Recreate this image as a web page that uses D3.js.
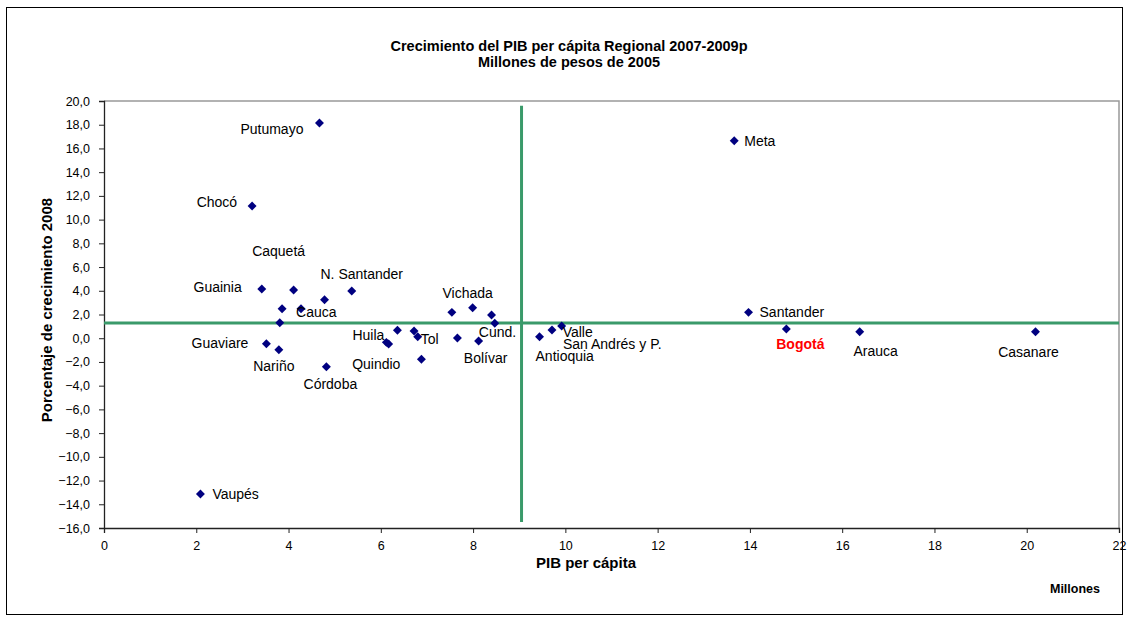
<!DOCTYPE html>
<html>
<head>
<meta charset="utf-8">
<script src="https://cdn.jsdelivr.net/npm/d3@7"></script>
<style>
  body { margin: 0; background: #fff; }
  svg text { font-family: "Liberation Sans", Arial, sans-serif; }
</style>
</head>
<body>
<div id="chart"></div>
<script>
var width = 1129, height = 621;

// departamentos
var names = ["Putumayo", "Chocó", "Meta", "Vaupés", "Guainia", "Caquetá", "Amazonas", "N. Santander",
    "Cauca", "Sucre", "Cesar", "Guaviare", "Nariño", "Córdoba", "Magdalena", "Vichada", "Boyacá",
    "Cund.", "Caldas", "Risaralda", "Tol", "Huila", "Atlántico", "Quindio", "La Guajira", "Bolívar",
    "Antioquia", "San Andrés y P.", "Valle", "Santander", "Bogotá", "Arauca", "Casanare"];
var pib = [4.67, 3.21, 13.66, 2.09, 3.42, 4.11, 4.78, 5.37,
    3.86, 4.27, 3.81, 3.52, 3.79, 4.82, 7.54, 7.99, 8.40,
    8.47, 6.36, 6.72, 6.80, 6.12, 6.17, 6.88, 7.66, 8.12,
    9.44, 9.71, 9.92, 13.97, 14.79, 16.38, 20.19];
var crecimiento = [18.14, 11.15, 16.65, -13.14, 4.15, 4.06, 3.25, 3.98,
    2.49, 2.49, 1.31, -0.46, -0.97, -2.40, 2.18, 2.57, 1.96,
    1.26, 0.67, 0.61, 0.13, -0.35, -0.49, -1.78, 0.02, -0.24,
    0.13, 0.69, 1.03, 2.18, 0.78, 0.55, 0.55];

// promedios (lineas verdes)
var promedioPib = [9.05];
var promedioCrec = [1.28];
var vLineRange = [19.6, -15.5];

var xTicks = [0, 2, 4, 6, 8, 10, 12, 14, 16, 18, 20, 22];
var yTicks = [20, 18, 16, 14, 12, 10, 8, 6, 4, 2, 0, -2, -4, -6, -8, -10, -12, -14, -16];

// posicion de etiquetas (como se arreglaron a mano)
var labelPos = {
    "Putumayo": ["end", -16, 6],
    "Chocó": ["end", -15, -4],
    "Meta": ["start", 10, 0],
    "Vaupés": ["start", 12, 0],
    "Guainia": ["end", -20, -2],
    "Caquetá": ["middle", -15, -39],
    "N. Santander": ["middle", 10, -17],
    "Cauca": ["start", 14, 3],
    "Guaviare": ["end", -18, -1],
    "Nariño": ["middle", -5, 16],
    "Córdoba": ["middle", 4, 17],
    "Vichada": ["middle", -5, -15],
    "Cund.": ["start", -16, 9],
    "Huila": ["end", -2, -7],
    "Tol": ["start", 3, 2],
    "Quindio": ["end", -21, 5],
    "Bolívar": ["middle", 7, 17],
    "Antioquia": ["start", -4, 19],
    "San Andrés y P.": ["start", 11, 14],
    "Valle": ["start", 1, 6],
    "Santander": ["start", 11, 0],
    "Bogotá": ["middle", 14, 15],
    "Arauca": ["middle", 16, 19],
    "Casanare": ["middle", -7, 20]
};

var data = names.map(function(n, i) { return {name: n, x: pib[i], y: crecimiento[i]}; });

var plotLeft = 104, plotRight = 1119, plotTop = 101, plotBottom = 528;

var x = d3.scaleLinear().domain([0, 22]).range([plotLeft, plotRight]);
var y = d3.scaleLinear().domain([-16, 20]).range([plotBottom, plotTop]);

var svg = d3.select("#chart").append("svg")
    .attr("width", width)
    .attr("height", height);

// marco exterior
svg.append("rect")
    .attr("x", 6.5).attr("y", 7.5)
    .attr("width", 1116).attr("height", 607)
    .attr("fill", "none").attr("stroke", "#000").attr("stroke-width", 1);

// borde del area de trazado
svg.append("path")
    .attr("d", "M" + plotLeft + "," + plotTop + "H" + plotRight + "V" + plotBottom)
    .attr("fill", "none").attr("stroke", "#999").attr("stroke-width", 1.5);

// titulos
svg.append("text").attr("x", 569).attr("y", 51).attr("text-anchor", "middle")
    .style("font-size", "14.5px").style("font-weight", "bold")
    .text("Crecimiento del PIB per cápita Regional 2007-2009p");
svg.append("text").attr("x", 569).attr("y", 66.5).attr("text-anchor", "middle")
    .style("font-size", "14.5px").style("font-weight", "bold")
    .text("Millones de pesos de 2005");

var xAxis = d3.axisBottom(x).tickValues(xTicks).tickSize(5).tickFormat(d3.format("d"));
var yAxis = d3.axisLeft(y).tickValues(yTicks).tickSize(5)
    .tickFormat(function(d) { return d3.format(".1f")(d).replace(".", ","); });

var gx = svg.append("g").attr("class", "x axis")
    .attr("transform", "translate(0," + plotBottom + ")")
    .call(xAxis);
var gy = svg.append("g").attr("class", "y axis")
    .attr("transform", "translate(" + plotLeft + ",0)")
    .call(yAxis);

svg.selectAll(".axis .domain").attr("stroke", "#222").attr("stroke-width", 1.3);
svg.selectAll(".axis line").attr("stroke", "#222");
svg.selectAll(".axis text").attr("fill", "#000").style("font-size", "12.5px")
    .style("font-family", "'Liberation Sans', Arial, sans-serif");
gx.selectAll("text").attr("dy", "1.1em");
gy.selectAll("text").attr("dx", "-6");

svg.append("text").attr("x", 586).attr("y", 568).attr("text-anchor", "middle")
    .style("font-size", "15px").style("font-weight", "bold")
    .text("PIB per cápita");
svg.append("text").attr("x", 1075).attr("y", 593).attr("text-anchor", "middle")
    .style("font-size", "12.5px").style("font-weight", "bold")
    .text("Millones");
svg.append("text")
    .attr("transform", "translate(52," + 310 + ") rotate(-90)")
    .attr("text-anchor", "middle")
    .style("font-size", "15px").style("font-weight", "bold")
    .text("Porcentaje de crecimiento 2008");

// lineas de promedio
svg.selectAll(".hline").data(promedioCrec).enter().append("line")
    .attr("class", "hline")
    .attr("x1", x(0)).attr("x2", x(22))
    .attr("y1", function(d) { return y(d); }).attr("y2", function(d) { return y(d); })
    .attr("stroke", "#3a9a6a").attr("stroke-width", 3);
svg.selectAll(".vline").data(promedioPib).enter().append("line")
    .attr("class", "vline")
    .attr("x1", function(d) { return x(d); }).attr("x2", function(d) { return x(d); })
    .attr("y1", y(vLineRange[0])).attr("y2", y(vLineRange[1]))
    .attr("stroke", "#3a9a6a").attr("stroke-width", 3);

// puntos (rombo = cuadrado girado 45 grados)
svg.selectAll(".pt").data(data).enter().append("path")
    .attr("class", "pt")
    .attr("transform", function(d) { return "translate(" + x(d.x) + "," + y(d.y) + ") rotate(45)"; })
    .attr("d", d3.symbol().type(d3.symbolSquare).size(40))
    .attr("fill", "#000080");

// etiquetas
svg.selectAll(".lbl").data(data.filter(function(d) { return labelPos[d.name]; }))
    .enter().append("text")
    .attr("class", "lbl")
    .attr("x", function(d) { return x(d.x) + labelPos[d.name][1]; })
    .attr("y", function(d) { return y(d.y) + labelPos[d.name][2]; })
    .attr("dy", "0.35em")
    .attr("text-anchor", function(d) { return labelPos[d.name][0]; })
    .style("font-size", "14px")
    .style("font-weight", function(d) { return d.name === "Bogotá" ? "bold" : "normal"; })
    .attr("fill", function(d) { return d.name === "Bogotá" ? "#ff0000" : "#000"; })
    .text(function(d) { return d.name; });
</script>
</body>
</html>
